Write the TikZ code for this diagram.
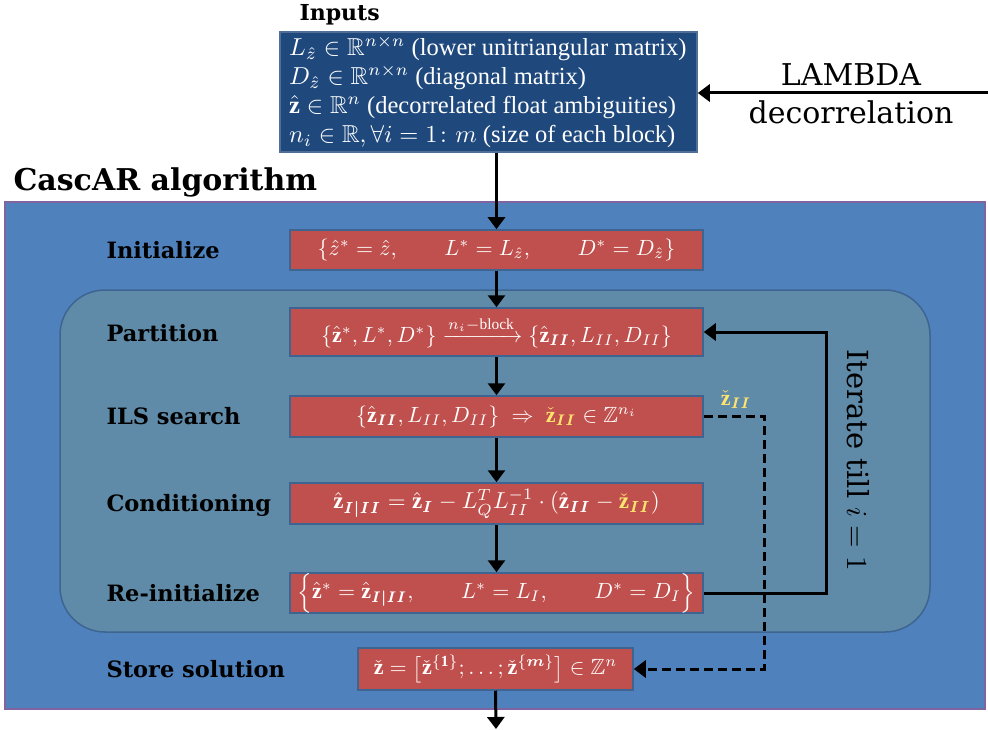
\documentclass[tikz,border=0pt]{standalone}
\usepackage{amsmath,amssymb}
\usepackage{fontspec}
\setmainfont{Liberation Serif}
\newfontfamily\labfont{DejaVu Serif}
\usetikzlibrary{arrows.meta}
\definecolor{outerblue}{RGB}{79,129,189}
\definecolor{outerborder}{RGB}{128,100,162}
\definecolor{innerfill}{RGB}{95,139,168}
\definecolor{innerborder}{RGB}{62,100,145}
\definecolor{redfill}{RGB}{192,80,77}
\definecolor{redborder}{RGB}{62,100,145}
\definecolor{inputsfill}{RGB}{31,73,125}
\definecolor{inputsborder}{RGB}{80,110,150}
\definecolor{ylw}{RGB}{255,228,110}
\newcommand{\mz}[2][2.2]{\scalebox{#1}{\fontsize{10}{12}\selectfont$#2$}}
\tikzset{
  redbox/.style={draw=redborder, fill=redfill, line width=1.5pt, inner sep=0pt, text=white,
    font=\fontsize{22}{26}\selectfont},
  steplabel/.style={anchor=west, font=\labfont\bfseries\fontsize{22.5}{26}\selectfont},
  arr/.style={line width=3pt, -{Triangle[length=12pt,width=17pt]}},
  loopline/.style={line width=3pt},
}
\begin{document}
\begin{tikzpicture}[x=1pt,y=-1pt]
\useasboundingbox (0,0) rectangle (988,730);
% backgrounds
\fill[outerblue] (5,202) rectangle (985,709);
\draw[outerborder, line width=1.5pt] (5,202) rectangle (985,709);
\draw[innerborder, fill=innerfill, line width=1.5pt, rounded corners=45pt] (60,290) rectangle (930,632);

% titles
\node[font=\labfont\bfseries\fontsize{22}{26}\selectfont, anchor=west] (inputslabel) at (296,15) {Inputs};
\node[font=\labfont\bfseries\fontsize{30}{34}\selectfont, anchor=west] (cascar) at (10,182) {CascAR algorithm};

% inputs box
\node[draw=inputsborder, fill=inputsfill, line width=1.5pt, text=white, minimum width=417pt,
  minimum height=120pt, inner sep=0pt] (inputs) at (488.5,92) {};
\node[text=white, align=left, anchor=west, inner sep=0pt, font=\fontsize{24.5}{29}\selectfont] (inputstext) at (289,92) {%
\mz[2.45]{L_{\hat{z}} \in \mathbb{R}^{n\times n}} (lower unitriangular matrix)\\
\mz[2.45]{D_{\hat{z}} \in \mathbb{R}^{n\times n}} (diagonal matrix)\\
\mz[2.45]{\hat{\mathbf{z}} \in \mathbb{R}^{n}} (decorrelated float ambiguities)\\
\mz[2.45]{n_i \in \mathbb{R}, \forall i = 1\colon m} (size of each block)};

% LAMBDA
\node[font=\labfont\fontsize{30}{34}\selectfont] (lambda) at (851,75) {LAMBDA};
\node[font=\labfont\fontsize{30}{34}\selectfont] (decor) at (851,112) {decorrelation};
\coordinate (lambdastart) at (988,93);

% step boxes
\node[redbox, minimum width=413pt, minimum height=40pt] (init) at (496.5,250)
  {\mz{\{\hat{z}^* = \hat{z},\qquad L^* = L_{\hat{z}},\qquad D^* = D_{\hat{z}}\}}};
\node[redbox, minimum width=413pt, minimum height=48pt] (part) at (496.5,332)
  {\raisebox{-4pt}{\mz{\{\hat{\mathbf{z}}^*, L^*, D^*\} \xrightarrow{n_i-\text{block}} \{\hat{\mathbf{z}}_{\boldsymbol{II}}, L_{II}, D_{II}\}}}};
\node[redbox, minimum width=413pt, minimum height=41pt] (ils) at (496.5,416.5)
  {\mz{\{\hat{\mathbf{z}}_{\boldsymbol{II}}, L_{II}, D_{II}\} \;\Rightarrow\; {\color{ylw}\check{\mathbf{z}}_{\boldsymbol{II}}} \in \mathbb{Z}^{n_i}}};
\node[redbox, minimum width=413pt, minimum height=41pt] (cond) at (496.5,503.5)
  {\mz[2.3]{\hat{\mathbf{z}}_{\boldsymbol{I|II}} = \hat{\mathbf{z}}_{\boldsymbol{I}} - L_Q^T L_{II}^{-1}\cdot(\hat{\mathbf{z}}_{\boldsymbol{II}} - {\color{ylw}\check{\mathbf{z}}_{\boldsymbol{II}}})}};
\node[redbox, minimum width=413pt, minimum height=40pt] (reinit) at (496.5,593)
  {\mz{\Bigl\{\hat{\mathbf{z}}^* = \hat{\mathbf{z}}_{\boldsymbol{I|II}},\qquad L^* = L_{I},\qquad D^* = D_{I}\Bigr\}}};
\node[redbox, minimum width=275pt, minimum height=42pt] (store) at (495.5,669)
  {\mz{\check{\mathbf{z}} = \bigl[\check{\mathbf{z}}^{\{\mathbf{1}\}}; \dots; \check{\mathbf{z}}^{\{\boldsymbol{m}\}}\bigr] \in \mathbb{Z}^n}};

% step labels
\node[steplabel] (linit) at (103,250) {Initialize};
\node[steplabel] (lpart) at (103,333) {Partition};
\node[steplabel] (lils) at (103,416) {ILS search};
\node[steplabel] (lcond) at (103,505) {Conditioning};
\node[steplabel] (lreinit) at (103,593) {Re-initialize};
\node[steplabel] (lstore) at (103,669) {Store solution};

% vertical arrows
\coordinate (endpt) at (496,729);
\draw[arr] (inputs.south -| init.north) -- (init.north);
\draw[arr] (init.south) -- (part.north);
\draw[arr] (part.south) -- (ils.north);
\draw[arr] (ils.south) -- (cond.north);
\draw[arr] (cond.south) -- (reinit.north);
\draw[arr] (store.south) -- (endpt);
\draw[arr] (lambdastart) -- (inputs.east |- lambdastart);

% iterate loop
\coordinate (loopx) at (826,0);
\draw[loopline, -{Triangle[length=12pt,width=17pt]}] (reinit.east) -- (reinit.east -| loopx) -- (part.east -| loopx) -- (part.east);
\node[rotate=-90, font=\labfont\fontsize{29}{33}\selectfont] (iterate) at (858,460) {Iterate till \mz[2.9]{i=1}};

% dashed link
\coordinate (dashx) at (764,0);
\draw[line width=3pt, dash pattern=on 9pt off 5pt, -{Triangle[length=12pt,width=17pt]}] (ils.east) -- (ils.east -| dashx) -- (store.east -| dashx) -- (store.east);
\node[text=ylw] (zlabel) at (736,400) {\mz{\check{\mathbf{z}}_{\boldsymbol{II}}}};
\end{tikzpicture}
\end{document}
